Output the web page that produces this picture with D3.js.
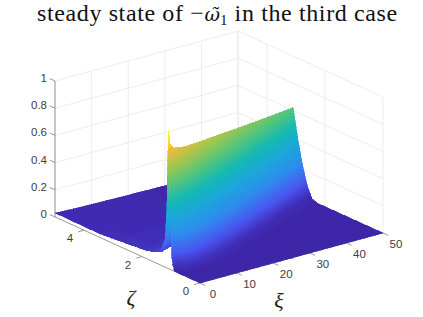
<!DOCTYPE html>
<html>
<head>
<meta charset="utf-8">
<title>steady state</title>
<script src="https://cdnjs.cloudflare.com/ajax/libs/d3/7.8.5/d3.min.js"></script>
<style>
html, body { margin: 0; padding: 0; background: #fff; }
svg { display: block; }
text { font-family: "Liberation Sans", sans-serif; font-size: 11.5px; fill: #404040; }
</style>
</head>
<body>
<svg id="chart" width="423" height="317"></svg>
<script>
var xiTicks = [0, 10, 20, 30, 40, 50];
var zetaTicks = [0, 2, 4];
var omegaTicks = [0, 0.2, 0.4, 0.6, 0.8, 1];

// surface, one row per xi station, nodes follow the ridge
var xiStations = [0, 0.5, 2, 6, 12, 20, 30, 40, 50];
var zetaNodes = [
    [0, 0.86, 0.90, 0.97, 1.00, 1.04, 1.07, 1.08, 1.09, 1.14, 1.20, 1.38, 1.83, 3.45, 5],
    [0, 0.80, 0.88, 0.95, 1.0, 1.05, 1.076, 1.094, 1.10, 1.16, 1.23, 1.40, 1.85, 3.45, 5],
    [0, 0.64, 0.76, 0.87, 0.95, 1.05, 1.10, 1.14, 1.15, 1.22, 1.30, 1.48, 1.95, 3.5, 5],
    [0, 0.59, 0.76, 0.91, 1.02, 1.17, 1.24, 1.29, 1.31, 1.40, 1.50, 1.70, 2.2, 3.6, 5],
    [0, 0.71, 0.91, 1.09, 1.22, 1.39, 1.48, 1.54, 1.56, 1.67, 1.80, 2.0, 2.5, 3.8, 5],
    [0, 0.99, 1.20, 1.39, 1.53, 1.70, 1.79, 1.86, 1.88, 2.0, 2.15, 2.4, 2.9, 4.0, 5],
    [0, 1.40, 1.61, 1.80, 1.94, 2.11, 2.20, 2.27, 2.29, 2.4, 2.6, 2.85, 3.3, 4.2, 5],
    [0, 1.82, 2.03, 2.21, 2.34, 2.52, 2.61, 2.67, 2.69, 2.8, 3.0, 3.25, 3.7, 4.5, 5],
    [0, 2.25, 2.45, 2.63, 2.76, 2.93, 3.02, 3.08, 3.10, 3.2, 3.4, 3.65, 4.1, 4.7, 5]
];
var omegaNodes = [
    [0, 0, 0.01, 0.09, 0.28, 0.47, 0.70, 0.85, 1.01, 0.46, 0.21, 0.094, 0.06, 0.026, 0.03],
    [0, 0, 0.02, 0.16, 0.32, 0.59, 0.76, 0.88, 0.91, 0.45, 0.20, 0.09, 0.055, 0.025, 0.028],
    [0, 0, 0.02, 0.16, 0.30, 0.56, 0.73, 0.84, 0.865, 0.43, 0.19, 0.085, 0.05, 0.024, 0.026],
    [0, 0, 0.02, 0.15, 0.29, 0.54, 0.70, 0.81, 0.83, 0.40, 0.18, 0.07, 0.04, 0.02, 0.022],
    [0, 0, 0.02, 0.14, 0.28, 0.52, 0.67, 0.77, 0.795, 0.38, 0.17, 0.06, 0.03, 0.016, 0.018],
    [0, 0, 0.018, 0.14, 0.27, 0.49, 0.64, 0.74, 0.76, 0.36, 0.16, 0.05, 0.02, 0.012, 0.014],
    [0, 0, 0.017, 0.13, 0.25, 0.46, 0.60, 0.69, 0.71, 0.34, 0.15, 0.05, 0.015, 0.008, 0.009],
    [0, 0, 0.016, 0.12, 0.23, 0.43, 0.56, 0.645, 0.665, 0.32, 0.14, 0.05, 0.012, 0.005, 0.005],
    [0, 0, 0.015, 0.11, 0.22, 0.40, 0.52, 0.60, 0.62, 0.30, 0.13, 0.045, 0.01, 0.002, 0.002]
];

var colourLevels = [0, 0.05, 0.125, 0.25, 0.375, 0.5, 0.625, 0.75, 0.875, 1];
var colourStops = ['#3e26a8', '#4232c0', '#4856f0', '#2f8bee', '#1ca6da', '#13b9b3', '#55c57a',
                   '#a4c64e', '#f4b83a', '#f9fb15'];

var svg = d3.select('#chart');

var blur = svg.append('defs').append('filter')
    .attr('id', 'soft')
    .attr('filterUnits', 'userSpaceOnUse')
    .attr('x', 0).attr('y', 0).attr('width', 423).attr('height', 317);
blur.append('feGaussianBlur').attr('stdDeviation', 0.5);

var xiScale = d3.scaleLinear().domain([0, 50]).range([0, 1]);
var zetaScale = d3.scaleLinear().domain([0, 5]).range([0, 1]);
var omegaScale = d3.scaleLinear().domain([0, 1]).range([0, 136]);
var colour = d3.scaleLinear().domain(colourLevels).range(colourStops).clamp(true);

var project = function(xi, zeta, omega) {
    var u = xiScale(xi), v = zetaScale(zeta);
    return [200 + 183 * u - 145 * v,
            283 - 50 * u - 66 * v - omegaScale(omega)];
};

var depth = function(xi, zeta, omega) {
    return 145 * xiScale(xi) + 183 * zetaScale(zeta) - 54.6 * omega;
};

var line = d3.line();

// back walls
var grid = svg.append('g')
    .attr('fill', 'none')
    .attr('stroke', '#e8e8e8')
    .attr('stroke-width', 0.8);

omegaTicks.forEach(function(w) {
    grid.append('path').attr('d', line([project(0, 5, w), project(50, 5, w), project(50, 0, w)]));
});
xiTicks.forEach(function(t) {
    grid.append('path').attr('d', line([project(t, 5, 0), project(t, 5, 1)]));
});
zetaTicks.concat([5]).forEach(function(t) {
    grid.append('path').attr('d', line([project(50, t, 0), project(50, t, 1)]));
});

// axis lines and ticks
var axes = svg.append('g')
    .attr('fill', 'none')
    .attr('stroke', '#8c8c8c')
    .attr('stroke-width', 0.9);

axes.append('path').attr('d', line([project(0, 5, 0), project(0, 5, 1)]));
axes.append('path').attr('d', line([project(0, 5, 0), project(0, 0, 0)]));
axes.append('path').attr('d', line([project(0, 0, 0), project(50, 0, 0)]));

omegaTicks.forEach(function(w) {
    axes.append('path').attr('d', line([project(0, 5, w), project(0, 5.18, w)]));
    svg.append('text')
        .attr('x', 47)
        .attr('y', project(0, 5, w)[1] - 3)
        .attr('dy', '0.35em')
        .attr('text-anchor', 'end')
        .text(d3.format('~g')(w));
});
zetaTicks.forEach(function(t) {
    axes.append('path').attr('d', line([project(0, t, 0), project(-1.6, t, 0)]));
    var p = project(0, t, 0);
    svg.append('text')
        .attr('x', p[0] - 14)
        .attr('y', p[1] + 8)
        .attr('dy', '0.35em')
        .attr('text-anchor', 'middle')
        .text(t);
});
xiTicks.forEach(function(t) {
    axes.append('path').attr('d', line([project(t, 0, 0), project(t, -0.18, 0)]));
    var p = project(t, 0, 0);
    svg.append('text')
        .attr('x', p[0] + 13)
        .attr('y', p[1] + 11)
        .attr('dy', '0.35em')
        .attr('text-anchor', 'middle')
        .text(t);
});

// surface cells, split up so the colour runs smoothly, painted back to front
var cells = [];
for (var i = 0; i < xiStations.length - 1; i++) {
    for (var j = 0; j < zetaNodes[0].length - 1; j++) {
        var dXi = xiStations[i + 1] - xiStations[i];
        var dOmega = Math.max(Math.abs(omegaNodes[i][j + 1] - omegaNodes[i][j]),
                              Math.abs(omegaNodes[i + 1][j + 1] - omegaNodes[i + 1][j]));
        var nu = Math.max(2, Math.ceil(dXi));
        var nv = Math.max(2, Math.ceil(dOmega * 60));
        for (var a = 0; a < nu; a++) {
            for (var b = 0; b < nv; b++) {
                cells.push(makeCell(i, j, a / nu, (a + 1) / nu, b / nv, (b + 1) / nv));
            }
        }
    }
}

function surfacePoint(i, j, s, t) {
    var xi = d3.interpolateNumber(xiStations[i], xiStations[i + 1])(s);
    var zeta = (1 - s) * (1 - t) * zetaNodes[i][j] + s * (1 - t) * zetaNodes[i + 1][j]
             + (1 - s) * t * zetaNodes[i][j + 1] + s * t * zetaNodes[i + 1][j + 1];
    var omega = (1 - s) * (1 - t) * omegaNodes[i][j] + s * (1 - t) * omegaNodes[i + 1][j]
              + (1 - s) * t * omegaNodes[i][j + 1] + s * t * omegaNodes[i + 1][j + 1];
    return [xi, zeta, omega];
}

function makeCell(i, j, s0, s1, t0, t1) {
    var mid = surfacePoint(i, j, (s0 + s1) / 2, (t0 + t1) / 2);
    var corners = [[s0, t0], [s1, t0], [s1, t1], [s0, t1]].map(function(c) {
        var q = surfacePoint(i, j, c[0], c[1]);
        return project(q[0], q[1], q[2]);
    });
    return {
        d: line(corners) + 'Z',
        fill: colour(mid[2]),
        z: depth(mid[0], mid[1], mid[2])
    };
}

cells.sort(function(a, b) { return b.z - a.z; });

svg.append('g')
    .attr('filter', 'url(#soft)')
    .attr('stroke-width', 0.6)
    .attr('shape-rendering', 'crispEdges')
    .selectAll('path')
    .data(cells)
    .enter().append('path')
        .attr('d', function(d) { return d.d; })
        .attr('fill', function(d) { return d.fill; })
        .attr('stroke', function(d) { return d.fill; });

// title and axis labels
var title = svg.append('text')
    .attr('x', 37)
    .attr('y', 21)
    .style('font-family', '"Liberation Serif", serif')
    .style('font-size', '24px')
    .style('letter-spacing', '0.62px')
    .style('fill', '#111');
title.append('tspan').text('steady state of \u2212');
title.append('tspan')
    .style('font-family', '"DejaVu Serif", serif')
    .style('font-style', 'italic')
    .style('font-size', '19px')
    .style('letter-spacing', '0')
    .text('\u03c9\u0303');
title.append('tspan').attr('dy', 4).style('font-size', '15px').text('1');
title.append('tspan').attr('dy', -4).text(' in the third case');

svg.append('text')
    .attr('x', 131)
    .attr('y', 305)
    .attr('text-anchor', 'middle')
    .style('font-family', '"Liberation Serif", serif')
    .style('font-style', 'italic')
    .style('font-size', '22px')
    .style('fill', '#222')
    .text('\u03b6');
svg.append('text')
    .attr('x', 279)
    .attr('y', 308)
    .attr('text-anchor', 'middle')
    .style('font-family', '"Liberation Serif", serif')
    .style('font-style', 'italic')
    .style('font-size', '22px')
    .style('fill', '#222')
    .text('\u03be');
</script>
</body>
</html>
